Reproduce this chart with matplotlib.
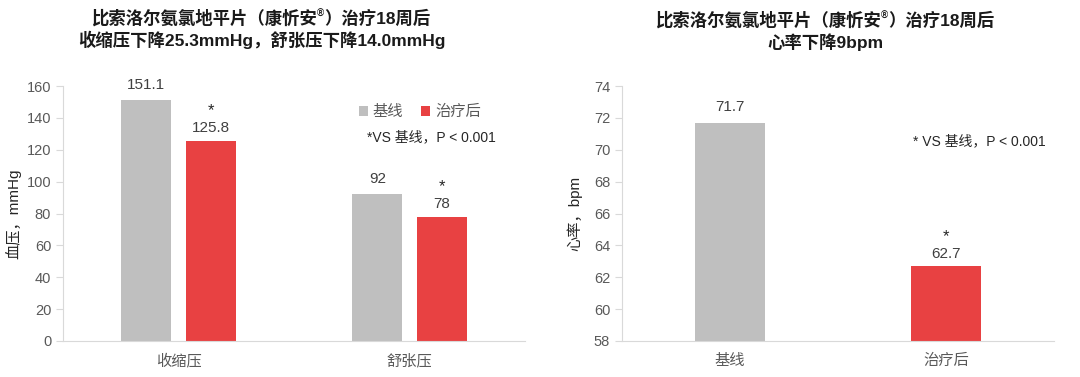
import numpy as np
import matplotlib.pyplot as plt

plt.rcParams['font.family'] = ['Liberation Sans', 'Noto Sans CJK SC', 'DejaVu Sans']

# ---- data ----
bp_categories = ['收缩压', '舒张压']
bp_baseline = [151.1, 92]
bp_after = [125.8, 78]
bp_base_labels = ['151.1', '92']
bp_after_labels = ['125.8', '78']

hr_categories = ['基线', '治疗后']
hr_values = [71.7, 62.7]
hr_labels = ['71.7', '62.7']

gray = '#BFBFBF'
red = '#E84142'
tick_col = '#595959'
spine_col = '#D9D9D9'
title_col = '#1A1A1A'

W, H = 1080, 377
fig = plt.figure(figsize=(W / 100, H / 100), dpi=100)
renderer = fig.canvas.get_renderer()


def style(ax):
    for s in ['top', 'right']:
        ax.spines[s].set_visible(False)
    ax.spines['left'].set_color(spine_col)
    ax.spines['bottom'].set_color(spine_col)
    ax.tick_params(axis='y', colors=spine_col, labelcolor=tick_col, labelsize=10.5, length=5)
    ax.tick_params(axis='x', length=0, labelcolor=tick_col, labelsize=11, pad=9)


def title_line1(cx, cy):
    # "...(康忻安®)治疗18周后" with a small raised ®
    parts = [('比索洛尔氨氯地平片（康忻安', 12.5, 0), ('®', 7, 4), ('）治疗18周后', 12.5, 0)]
    texts = []
    widths = []
    for s, fs, dy in parts:
        t = fig.text(0, cy + dy / H, s, fontsize=fs, fontweight='bold', color=title_col,
                     ha='left', va='center')
        texts.append(t)
        widths.append(t.get_window_extent(renderer).width)
    x0 = cx * W - sum(widths) / 2
    for t, w in zip(texts, widths):
        t.set_x(x0 / W)
        x0 += w


# ---- left: blood pressure ----
ax1 = fig.add_axes([63 / W, 36 / H, 462 / W, 255 / H])
x = np.arange(len(bp_categories))
bw = 0.217
off = 0.139
ax1.bar(x - off, bp_baseline, bw, color=gray, label='基线')
ax1.bar(x + off, bp_after, bw, color=red, label='治疗后')
ax1.set_xlim(-0.5, 1.5)
ax1.set_ylim(0, 160)
ax1.set_yticks(range(0, 161, 20))
ax1.set_xticks(x)
ax1.set_xticklabels(bp_categories)
style(ax1)
ax1.set_ylabel('血压，mmHg', fontsize=11, color='#262626', labelpad=4)

for i in range(len(bp_categories)):
    ax1.annotate(bp_base_labels[i], (x[i] - off, bp_baseline[i]), xytext=(0, 6),
                 textcoords='offset points', ha='center', va='bottom', fontsize=11, color='#404040')
    ax1.annotate(bp_after_labels[i], (x[i] + off, bp_after[i]), xytext=(0, 4),
                 textcoords='offset points', ha='center', va='bottom', fontsize=11, color='#404040')
    ax1.annotate('*', (x[i] + off, bp_after[i]), xytext=(0, 16),
                 textcoords='offset points', ha='center', va='bottom', fontsize=12, color='#262626')

ax1.legend(loc='upper left', bbox_to_anchor=(0.61, 0.98), ncol=2, frameon=False,
           handlelength=0.6, handleheight=0.6, handletextpad=0.3, columnspacing=1.2,
           prop={'size': 11}, labelcolor=tick_col)
ax1.text(0.658, 0.80, '*VS 基线，P < 0.001', transform=ax1.transAxes, fontsize=10,
         color='#262626', va='center')

title_line1(261 / W, 1 - 18 / H)
fig.text(262 / W, 1 - 40 / H, '收缩压下降25.3mmHg，舒张压下降14.0mmHg',
         ha='center', va='center', fontsize=12.5, fontweight='bold', color=title_col)

# ---- right: heart rate ----
ax2 = fig.add_axes([622 / W, 36 / H, 432 / W, 255 / H])
x2 = np.arange(len(hr_categories))
ax2.bar(x2, hr_values, 0.32, color=[gray, red])
ax2.set_xlim(-0.5, 1.5)
ax2.set_ylim(58, 74)
ax2.set_yticks(range(58, 75, 2))
ax2.set_xticks(x2)
ax2.set_xticklabels(hr_categories)
style(ax2)
ax2.set_ylabel('心率，bpm', fontsize=11, color='#262626', labelpad=8)

for i in range(len(hr_categories)):
    ax2.annotate(hr_labels[i], (x2[i], hr_values[i]), xytext=(0, 6 if i == 0 else 4),
                 textcoords='offset points', ha='center', va='bottom', fontsize=11, color='#404040')
ax2.annotate('*', (x2[1], hr_values[1]), xytext=(0, 16),
             textcoords='offset points', ha='center', va='bottom', fontsize=12, color='#262626')
ax2.text(0.673, 0.785, '* VS 基线，P < 0.001', transform=ax2.transAxes, fontsize=10,
         color='#262626', va='center')

title_line1(825 / W, 1 - 20 / H)
fig.text(825 / W, 1 - 42 / H, '心率下降9bpm',
         ha='center', va='center', fontsize=12.5, fontweight='bold', color=title_col)

fig.savefig('out.png', dpi=100, facecolor='white')
